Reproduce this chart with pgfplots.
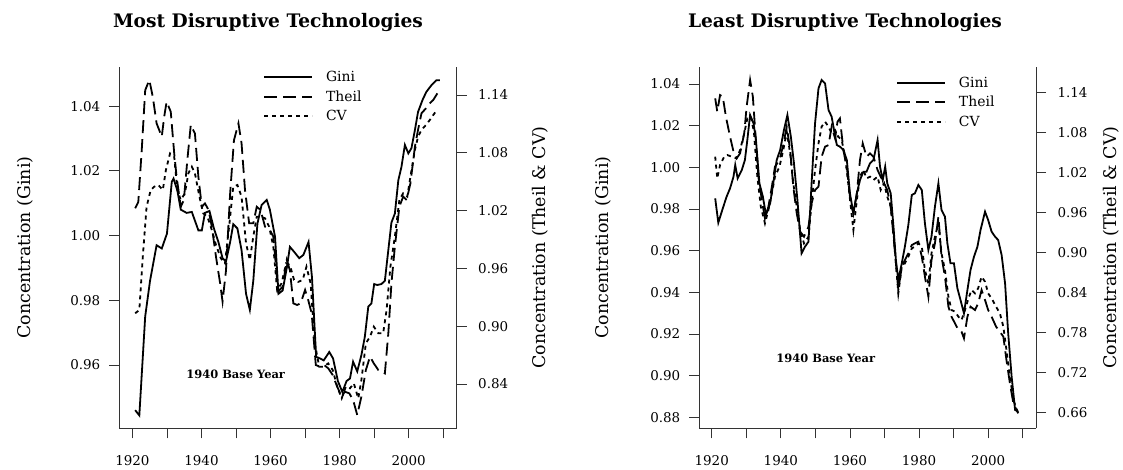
\documentclass[border=0pt]{standalone}
\usepackage{fontspec}
\setmainfont{DejaVu Serif}
\usepackage{pgfplots}
\pgfplotsset{compat=1.18}

\newcommand\titlefont{\fontsize{18.7}{22}\selectfont\bfseries}
\newcommand\basefont{\fontsize{11.5}{13}\selectfont\bfseries}
\newcommand\labelfont{\fontsize{17.5}{20}\selectfont}

\pgfplotsset{
  panel/.style={
    scale only axis, height=361.6bp,
    tick align=outside, major tick length=10bp,
    every tick/.style={line width=0.8bp, black!80},
    axis line style={line width=0.8bp, black!80},
    font=\fontsize{13.5}{16}\selectfont,
    /pgf/number format/assume math mode=true,
    scaled y ticks=false,
    y tick label style={/pgf/number format/fixed, /pgf/number format/fixed zerofill, /pgf/number format/precision=2},
    x tick label style={yshift=-14bp},
    xtick={1920,1930,1940,1950,1960,1970,1980,1990,2000,2010},
    xticklabels={1920,{},1940,{},1960,{},1980,{},2000,{}},
    legend cell align=left,
    legend image code/.code={\draw[##1] (0bp,0bp) -- (48bp,0bp); \path (59bp,0bp);},
  },
  leftticks/.style={yticklabel style={anchor=east}, yticklabel={\pgfmathprintnumber{\tick}\hspace*{5.5bp}}},
  leg/.style={legend style={draw=none, fill=none, at={#1}, anchor=north west,
    inner sep=0pt, row sep=3.5bp, font=\fontsize{14}{16}\selectfont}},
  gini/.style={line width=1.8bp, black},
  theil/.style={line width=1.8bp, black, dash pattern=on 13bp off 6bp},
  cv/.style={line width=1.8bp, black, dash pattern=on 4bp off 4bp},
}

\begin{document}
\begin{tikzpicture}
\useasboundingbox (0,0) rectangle (1123bp,470bp);

% ---------------- Most disruptive ----------------
\begin{axis}[panel, at={(119.3bp,41.7bp)}, anchor=south west, width=337.4bp,
  axis x line*=bottom, axis y line*=left,
  xmin=1916.2, xmax=2013.9, ymin=0.9404, ymax=1.0522,
  ytick={0.96,0.98,1.00,1.02,1.04},
  every axis y label/.style={at={(axis description cs:-0.2795,0.5)}, rotate=90, anchor=center},
  ylabel={\labelfont Concentration (Gini)},
  title={Most Disruptive Technologies},
  every axis title/.style={at={(axis description cs:0.4407,1.1236)}, anchor=center, font=\titlefont},
  leftticks,
]
\addplot[gini] coordinates {
(1920.8,0.946) (1922.0,0.9444) (1923.7,0.975) (1925.1,0.986) (1927.0,0.997) (1928.5,0.996) (1930.0,1.0006) (1931.4,1.0166) (1931.9,1.0176) (1933.0,1.014) (1934.0,1.008) (1935.7,1.007) (1937.2,1.0073) (1939.1,1.0016) (1940.1,1.0016) (1941.0,1.007) (1942.3,1.0076) (1943.6,1.0022) (1944.9,0.998) (1946.1,0.993) (1947.1,0.992) (1948.3,0.998) (1949.2,1.0035) (1950.4,1.0022) (1951.6,0.9955) (1952.9,0.982) (1954.0,0.977) (1955.0,0.986) (1956.2,1.0037) (1957.4,1.0094) (1958.9,1.011) (1959.8,1.008) (1961.3,0.9996) (1962.3,0.982) (1963.5,0.983) (1964.7,0.990) (1965.6,0.9965) (1966.8,0.995) (1968.3,0.993) (1969.5,0.994) (1971.0,0.998) (1972.0,0.987) (1973.2,0.9625) (1974.3,0.962) (1975.4,0.9614) (1977.0,0.964) (1978.1,0.962) (1979.5,0.955) (1980.8,0.9516) (1982.0,0.955) (1983.0,0.9558) (1983.9,0.961) (1985.1,0.958) (1986.3,0.963) (1987.3,0.9687) (1988.3,0.978) (1989.2,0.979) (1990.0,0.985) (1990.9,0.9847) (1992.1,0.985) (1993.1,0.986) (1994.1,0.9955) (1995.0,1.004) (1996.0,1.0068) (1997.0,1.0171) (1997.9,1.0212) (1998.9,1.028) (1999.9,1.0254) (2000.8,1.027) (2001.8,1.0326) (2002.7,1.0382) (2004.0,1.0419) (2005.1,1.0444) (2006.6,1.0465) (2008.0,1.048) (2009.0,1.048)
};
\node[font=\basefont] at (rel axis cs:0.345,0.150) {1940 Base Year};
\end{axis}

\begin{axis}[panel, at={(119.3bp,41.7bp)}, anchor=south west, width=337.4bp,
  axis x line=none, axis y line*=right,
  xmin=1916.2, xmax=2013.9, ymin=0.794, ymax=1.1694,
  ytick={0.84,0.90,0.96,1.02,1.08,1.14},
  every axis y label/.style={at={(axis description cs:1.2469,0.5)}, rotate=90, anchor=center},
  ylabel={\labelfont Concentration (Theil \& CV)},
  yticklabel style={anchor=west, xshift=8bp},
  leg={(axis description cs:0.426,0.993)},
]
\addlegendimage{gini}
\addlegendentry{Gini}
\addplot[theil] coordinates {
(1920.8,1.0224) (1921.7,1.029) (1922.7,1.083) (1923.7,1.145) (1924.9,1.1556) (1925.9,1.138) (1927.0,1.1106) (1928.5,1.0967) (1929.2,1.1175) (1929.9,1.133) (1931.1,1.1227) (1932.1,1.0794) (1932.8,1.055) (1934.0,1.024) (1934.9,1.031) (1935.9,1.0725) (1936.9,1.109) (1938.1,1.100) (1939.1,1.055) (1940.1,1.024) (1941.0,1.0275) (1942.0,1.021) (1943.0,1.0033) (1944.2,0.972) (1945.4,0.9445) (1946.1,0.9255) (1947.1,0.958) (1948.3,1.038) (1949.4,1.093) (1950.7,1.1106) (1951.6,1.0898) (1952.6,1.0414) (1953.8,1.0068) (1955.0,1.0068) (1956.0,1.024) (1957.1,1.0206) (1958.4,1.0033) (1959.8,1.0) (1960.8,0.993) (1962.2,0.936) (1963.5,0.941) (1964.7,0.9687) (1965.6,0.958) (1966.6,0.9237) (1967.7,0.922) (1968.7,0.9237) (1970.0,0.9376) (1970.9,0.9272) (1971.9,0.9134) (1973.1,0.8597) (1974.3,0.858) (1975.5,0.8597) (1976.7,0.8563) (1978.0,0.8493) (1979.3,0.8372) (1980.6,0.8268) (1981.5,0.832) (1982.8,0.8303) (1983.9,0.8234) (1985.1,0.8078) (1986.3,0.8268) (1987.6,0.8545) (1988.8,0.8684) (1989.9,0.8614) (1991.2,0.8545) (1992.4,0.8528) (1993.1,0.851) (1994.1,0.8926) (1995.0,0.9445) (1996.0,0.9826) (1997.3,1.024) (1998.4,1.0345) (1999.4,1.031) (2000.5,1.0483) (2001.8,1.0864) (2002.7,1.1037) (2003.7,1.121) (2005.0,1.1262) (2006.1,1.1313) (2007.1,1.1348) (2008.3,1.1417)
};
\addlegendentry{Theil}
\addplot[cv] coordinates {
(1920.8,0.9134) (1922.0,0.9168) (1923.0,0.972) (1924.1,1.024) (1925.3,1.0414) (1926.3,1.0448) (1927.5,1.0466) (1928.8,1.0414) (1929.7,1.0622) (1930.9,1.0794) (1932.1,1.076) (1933.0,1.0414) (1934.0,1.031) (1935.2,1.038) (1936.2,1.0587) (1937.2,1.0656) (1938.1,1.0587) (1939.4,1.0345) (1940.5,1.0172) (1941.7,1.0137) (1943.0,0.9999) (1944.2,0.9843) (1945.6,0.9705) (1946.8,0.9653) (1948.1,1.0068) (1949.2,1.0448) (1950.4,1.0466) (1951.6,1.0345) (1952.9,0.986) (1954.0,0.9687) (1955.0,0.993) (1956.0,1.0137) (1957.1,1.0137) (1958.4,1.012) (1959.6,1.0033) (1960.8,0.9826) (1961.9,0.9376) (1963.2,0.9445) (1964.5,0.9653) (1965.6,0.9635) (1966.8,0.948) (1968.0,0.946) (1969.3,0.948) (1970.4,0.9618) (1971.6,0.9445) (1972.8,0.8822) (1974.1,0.858) (1975.3,0.858) (1976.7,0.8614) (1978.0,0.8545) (1979.3,0.8372) (1980.6,0.8251) (1981.8,0.8372) (1983.0,0.8355) (1984.1,0.8407) (1985.4,0.8251) (1986.3,0.844) (1987.6,0.8822) (1988.8,0.8891) (1989.9,0.8995) (1991.2,0.8926) (1992.6,0.8926) (1993.6,0.9168) (1994.7,0.9618) (1996.0,0.993) (1997.3,1.031) (1998.4,1.038) (1999.6,1.0345) (2000.5,1.0552) (2001.8,1.0829) (2002.7,1.0967) (2003.7,1.1037) (2005.0,1.1089) (2006.1,1.114) (2007.8,1.1227)
};
\addlegendentry{CV}
\end{axis}

% ---------------- Least disruptive ----------------
\begin{axis}[panel, at={(699.3bp,41.7bp)}, anchor=south west, width=336.7bp,
  axis x line*=bottom, axis y line*=left,
  xmin=1916.4, xmax=2013.85, ymin=0.8747, ymax=1.0483,
  ytick={0.88,0.90,0.92,0.94,0.96,0.98,1.00,1.02,1.04},
  every axis y label/.style={at={(axis description cs:-0.286,0.5)}, rotate=90, anchor=center},
  ylabel={\labelfont Concentration (Gini)},
  title={Least Disruptive Technologies},
  every axis title/.style={at={(axis description cs:0.4327,1.1236)}, anchor=center, font=\titlefont},
  leftticks,
]
\addplot[gini] coordinates {
(1921.0,0.9851) (1921.9,0.9734) (1923.2,0.9803) (1924.3,0.9859) (1925.3,0.9899) (1926.3,0.9955) (1926.8,1.0011) (1927.5,0.9947) (1928.7,0.9987) (1929.6,1.0035) (1930.3,1.0131) (1931.1,1.0251) (1932.1,1.0211) (1932.8,1.0131) (1933.8,0.9923) (1934.8,0.9859) (1935.7,0.9771) (1936.9,0.9827) (1937.8,0.9923) (1938.8,1.0035) (1939.8,1.0083) (1940.9,1.0179) (1941.9,1.0251) (1942.9,1.0147) (1943.8,1.0019) (1944.8,0.9843) (1946.0,0.9587) (1947.0,0.9619) (1948.0,0.9643) (1948.9,0.9923) (1949.9,1.0211) (1950.9,1.0379) (1951.8,1.0419) (1952.8,1.0403) (1953.8,1.0275) (1954.7,1.0243) (1955.4,1.0179) (1956.2,1.0107) (1957.1,1.0099) (1958.1,1.0083) (1959.1,1.0035) (1960.0,0.9875) (1961.0,0.9779) (1962.0,0.9875) (1962.9,0.9939) (1963.9,0.9979) (1964.8,0.9979) (1965.8,1.0019) (1966.8,1.0035) (1968.0,1.0131) (1968.7,1.0003) (1969.5,0.9939) (1970.2,1.0003) (1970.8,0.9923) (1971.8,0.9875) (1972.6,0.9715) (1973.3,0.9555) (1974.0,0.9459) (1975.0,0.9539) (1975.9,0.9619) (1976.9,0.9723) (1977.9,0.9867) (1978.8,0.9875) (1979.8,0.9915) (1980.8,0.9891) (1981.7,0.9731) (1982.7,0.9603) (1983.6,0.9667) (1984.6,0.9811) (1985.6,0.9923) (1986.5,0.9795) (1987.5,0.9763) (1988.2,0.9635) (1989.1,0.9539) (1990.1,0.9539) (1991.1,0.9419) (1992.0,0.9363) (1993.0,0.9299) (1994.0,0.9411) (1994.9,0.9507) (1995.9,0.9571) (1996.9,0.9619) (1997.8,0.9699) (1999.1,0.9787) (2000.0,0.9747) (2001.0,0.9691) (2002.0,0.9667) (2002.9,0.9651) (2003.9,0.9579) (2004.9,0.9443) (2005.8,0.9203) (2006.8,0.8995) (2007.8,0.8835) (2008.7,0.8827)
};
\node[font=\basefont] at (rel axis cs:0.3757,0.1936) {1940 Base Year};
\end{axis}

\begin{axis}[panel, at={(699.3bp,41.7bp)}, anchor=south west, width=336.7bp,
  axis x line=none, axis y line*=right,
  xmin=1916.4, xmax=2013.85, ymin=0.6366, ymax=1.179,
  ytick={0.66,0.72,0.78,0.84,0.90,0.96,1.02,1.08,1.14},
  every axis y label/.style={at={(axis description cs:1.2228,0.5)}, rotate=90, anchor=center},
  ylabel={\labelfont Concentration (Theil \& CV)},
  yticklabel style={anchor=west, xshift=8bp},
  leg={(axis description cs:0.5842,0.978)},
]
\addlegendimage{gini}
\addlegendentry{Gini}
\addplot[theil] coordinates {
(1921.0,1.1315) (1921.6,1.1115) (1922.4,1.1365) (1923.2,1.134) (1924.1,1.104) (1925.3,1.074) (1926.3,1.0515) (1927.2,1.0415) (1928.2,1.049) (1929.4,1.079) (1930.1,1.119) (1931.1,1.159) (1931.9,1.134) (1932.5,1.089) (1933.5,1.014) (1934.5,0.979) (1935.4,0.9515) (1936.4,0.969) (1937.4,0.999) (1938.3,1.029) (1939.6,1.039) (1940.7,1.0615) (1941.7,1.089) (1942.7,1.054) (1943.6,0.999) (1944.6,0.959) (1945.6,0.9315) (1946.7,0.924) (1948.0,0.939) (1948.9,0.974) (1949.9,0.994) (1950.9,0.999) (1951.8,1.044) (1952.8,1.059) (1953.8,1.0615) (1954.7,1.089) (1955.7,1.0715) (1956.4,1.0965) (1957.1,1.1015) (1958.1,1.054) (1959.2,1.024) (1960.2,0.974) (1961.0,0.959) (1962.0,0.989) (1962.9,1.039) (1963.7,1.064) (1964.8,1.044) (1965.8,1.049) (1966.8,1.044) (1968.0,1.024) (1968.9,1.014) (1969.9,1.004) (1970.8,0.994) (1971.8,0.969) (1972.7,0.919) (1974.0,0.844) (1975.0,0.879) (1975.9,0.889) (1976.9,0.899) (1977.9,0.9115) (1978.8,0.914) (1979.8,0.9165) (1980.8,0.894) (1981.7,0.864) (1982.7,0.834) (1983.6,0.889) (1984.6,0.914) (1985.6,0.954) (1986.5,0.894) (1987.5,0.864) (1988.5,0.819) (1989.4,0.804) (1990.4,0.794) (1991.4,0.784) (1992.3,0.7815) (1993.0,0.7715) (1994.0,0.804) (1994.9,0.819) (1996.2,0.814) (1997.1,0.824) (1998.1,0.844) (1999.1,0.829) (2000.0,0.814) (2001.0,0.804) (2002.3,0.789) (2003.4,0.7815) (2004.4,0.774) (2005.3,0.739) (2006.3,0.704) (2007.3,0.674) (2008.7,0.659)
};
\addlegendentry{Theil}
\addplot[cv] coordinates {
(1921.0,1.044) (1921.6,1.0115) (1922.4,1.0315) (1923.6,1.044) (1924.5,1.0465) (1925.8,1.044) (1927.2,1.0415) (1928.2,1.054) (1929.4,1.079) (1930.3,1.1015) (1931.3,1.104) (1932.2,1.0815) (1933.2,1.014) (1934.2,0.969) (1935.4,0.944) (1936.4,0.964) (1937.4,0.989) (1938.3,1.014) (1939.6,1.029) (1940.7,1.054) (1941.7,1.0815) (1942.7,1.049) (1943.6,1.004) (1944.6,0.969) (1945.6,0.934) (1946.7,0.914) (1948.0,0.924) (1948.9,0.974) (1949.9,1.024) (1950.9,1.064) (1951.8,1.089) (1952.8,1.0965) (1953.8,1.089) (1954.7,1.079) (1955.7,1.084) (1956.6,1.074) (1957.6,1.069) (1958.6,1.044) (1959.5,1.004) (1961.0,0.934) (1962.0,0.979) (1962.9,1.014) (1963.9,1.024) (1964.8,1.0115) (1965.8,1.014) (1966.8,1.009) (1968.0,1.014) (1968.9,0.994) (1969.9,1.004) (1970.8,0.984) (1971.8,0.969) (1972.7,0.924) (1974.0,0.839) (1975.0,0.879) (1975.9,0.884) (1976.9,0.894) (1977.9,0.9065) (1978.8,0.909) (1979.8,0.914) (1980.8,0.909) (1981.7,0.874) (1982.7,0.854) (1983.6,0.899) (1984.6,0.924) (1985.6,0.944) (1986.5,0.899) (1987.5,0.874) (1988.5,0.834) (1989.4,0.814) (1990.4,0.8115) (1991.4,0.804) (1992.3,0.799) (1993.3,0.814) (1994.3,0.8315) (1995.2,0.844) (1996.2,0.839) (1997.1,0.8465) (1998.1,0.864) (1999.1,0.8565) (2000.0,0.839) (2001.0,0.8315) (2002.3,0.819) (2003.4,0.809) (2004.4,0.789) (2005.3,0.754) (2006.3,0.714) (2007.3,0.679) (2008.7,0.659)
};
\addlegendentry{CV}
\end{axis}
\end{tikzpicture}
\end{document}
